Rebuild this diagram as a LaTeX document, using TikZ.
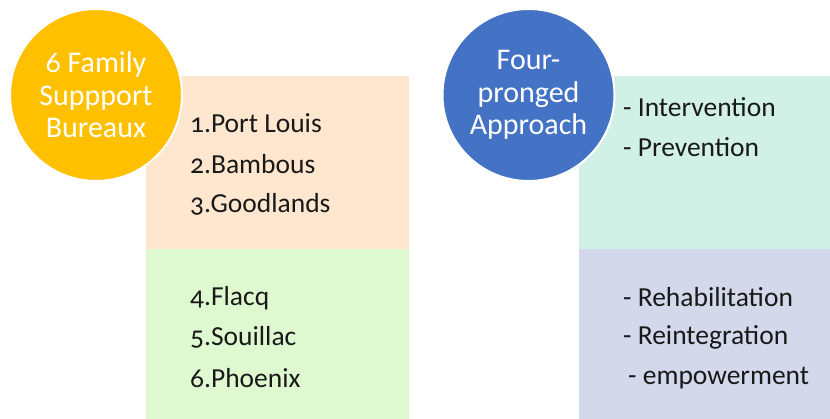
\documentclass[tikz,border=0pt]{standalone}
\usepackage{fontspec}
\setmainfont[Numbers=OldStyle]{Carlito}
\definecolor{cyellow}{HTML}{FFC000}
\definecolor{cblue}{HTML}{4472C4}
\definecolor{cpeach}{HTML}{FEE7CE}
\definecolor{cgreen}{HTML}{DEF8D0}
\definecolor{cteal}{HTML}{D2F1E6}
\definecolor{clav}{HTML}{D3D8EB}
\tikzset{
  bigcircle/.style={circle, draw=white, line width=2pt, minimum size=172pt, inner sep=0pt, text=white, align=center, font=\fontsize{30}{32.5}\selectfont},
  item/.style={anchor=west, inner sep=0pt, font=\fontsize{27.5}{30}\selectfont, text=black!90},
}
\begin{document}
\begin{tikzpicture}[x=1pt,y=-1pt]
\useasboundingbox (0,0) rectangle (830,419);
\fill[cpeach] (146,76) rectangle (409,249);
\fill[cgreen] (146,249) rectangle (409,419);
\fill[cteal] (579,76) rectangle (830,249);
\fill[clav] (579,249) rectangle (830,419);
\node[bigcircle, fill=cyellow] (c1) at (96,95) {6 Family\\Suppport\\Bureaux};
\node[bigcircle, fill=cblue] (c2) at (528.5,95) {Four-\\pronged\\Approach};
\node[item] (a1) at (190,123) {1.Port Louis};
\node[item] (a2) at (190,164) {2.Bambous};
\node[item] (a3) at (190,204) {3.Goodlands};
\node[item] (a4) at (190,298) {4.Flacq};
\node[item] (a5) at (190,337) {5.Souillac};
\node[item] (a6) at (190,378) {6.Phoenix};
\node[item] (b1) at (623,107) {- Intervention};
\node[item] (b2) at (623,147) {- Prevention};
\node[item] (b3) at (623,297) {- Rehabilitation};
\node[item] (b4) at (623,337) {- Reintegration};
\node[item] (b5) at (628,378) {- empowerment};
\end{tikzpicture}
\end{document}
